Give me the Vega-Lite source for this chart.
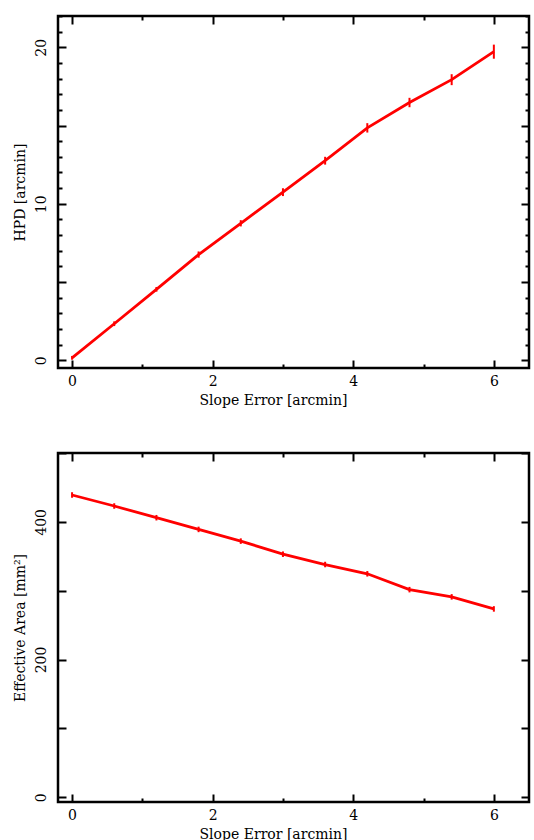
{
  "$schema": "https://vega.github.io/schema/vega-lite/v6.json",
  "padding": {"left": 11, "top": 13, "right": 5, "bottom": 5},
  "background": "white",
  "config": {
    "view": {"stroke": "black", "strokeWidth": 2.5},
    "font": "DejaVu Serif",
    "axis": {
      "domain": false,
      "grid": false,
      "tickColor": "black",
      "tickWidth": 2,
      "labelFont": "DejaVu Serif",
      "labelFontSize": 14,
      "labelColor": "black",
      "titleFont": "DejaVu Serif",
      "titleFontSize": 14,
      "titleFontWeight": "normal",
      "titleColor": "black"
    }
  },
  "datasets": {
    "hpd": [
      {"slope": 0.0, "v": 0.15, "e": 0.12},
      {"slope": 0.6, "v": 2.33, "e": 0.15},
      {"slope": 1.2, "v": 4.53, "e": 0.15},
      {"slope": 1.8, "v": 6.75, "e": 0.2},
      {"slope": 2.4, "v": 8.75, "e": 0.2},
      {"slope": 3.0, "v": 10.74, "e": 0.25},
      {"slope": 3.6, "v": 12.75, "e": 0.25},
      {"slope": 4.2, "v": 14.85, "e": 0.3},
      {"slope": 4.8, "v": 16.47, "e": 0.3},
      {"slope": 5.4, "v": 17.93, "e": 0.35},
      {"slope": 6.0, "v": 19.72, "e": 0.45}
    ],
    "area": [
      {"slope": 0.0, "v": 439, "e": 4},
      {"slope": 0.6, "v": 423, "e": 4},
      {"slope": 1.2, "v": 406, "e": 4},
      {"slope": 1.8, "v": 389, "e": 4},
      {"slope": 2.4, "v": 372, "e": 4},
      {"slope": 3.0, "v": 353, "e": 4},
      {"slope": 3.6, "v": 338, "e": 4},
      {"slope": 4.2, "v": 324.5, "e": 4},
      {"slope": 4.8, "v": 301.5, "e": 4},
      {"slope": 5.4, "v": 291, "e": 4},
      {"slope": 6.0, "v": 273.5, "e": 4}
    ]
  },
  "spacing": 41,
  "vconcat": [
    {
      "width": 471,
      "height": 352,
      "data": {"name": "hpd"},
      "resolve": {"axis": {"x": "independent", "y": "independent"}},
      "layer": [
        {
          "mark": {"type": "line", "color": "#ff0000", "strokeWidth": 2.8},
          "encoding": {
            "x": {"field": "slope", "type": "quantitative", "scale": {"domain": [-0.2, 6.5], "nice": false, "zero": false},
              "axis": {"orient": "bottom", "title": "Slope Error [arcmin]", "values": [0, 1, 2, 3, 4, 5, 6],
                "labelExpr": "datum.value % 2 === 0 ? datum.label : ''",
                "tickSize": {"condition": {"test": "datum.value % 2 === 0", "value": -8}, "value": -4},
                "labelPadding": 14, "titlePadding": 5, "titleX": 215, "labelAngle": 0}},
            "y": {"field": "v", "type": "quantitative", "scale": {"domain": [-0.5, 22], "nice": false, "zero": false},
              "axis": {"orient": "left", "title": "HPD [arcmin]",
                "values": [0,1,2,3,4,5,6,7,8,9,10,11,12,13,14,15,16,17,18,19,20,21,22],
                "labelExpr": "datum.value % 10 === 0 ? datum.label : ''",
                "tickSize": {"condition": {"test": "datum.value % 5 === 0", "value": -8}, "value": -4},
                "labelAngle": -90, "labelAlign": "center", "labelBaseline": "bottom", "labelPadding": 18, "titlePadding": 7}}
          }
        },
        {
          "mark": {"type": "rule", "color": "#ff0000", "strokeWidth": 2},
          "encoding": {
            "x": {"field": "slope", "type": "quantitative",
              "axis": {"orient": "top", "title": null, "values": [0, 1, 2, 3, 4, 5, 6], "labels": false,
                "tickSize": {"condition": {"test": "datum.value % 2 === 0", "value": -8}, "value": -4}}},
            "y": {"field": "lo", "type": "quantitative",
              "axis": {"orient": "right", "title": null, "labels": false,
                "values": [0,1,2,3,4,5,6,7,8,9,10,11,12,13,14,15,16,17,18,19,20,21,22],
                "tickSize": {"condition": {"test": "datum.value % 5 === 0", "value": -8}, "value": -4}}},
            "y2": {"field": "hi"}
          },
          "transform": [{"calculate": "datum.v - datum.e", "as": "lo"}, {"calculate": "datum.v + datum.e", "as": "hi"}]
        }
      ]
    },
    {
      "width": 471,
      "height": 349,
      "data": {"name": "area"},
      "resolve": {"axis": {"x": "independent", "y": "independent"}},
      "layer": [
        {
          "mark": {"type": "line", "color": "#ff0000", "strokeWidth": 2.8},
          "encoding": {
            "x": {"field": "slope", "type": "quantitative", "scale": {"domain": [-0.2, 6.5], "nice": false, "zero": false},
              "axis": {"orient": "bottom", "title": "Slope Error [arcmin]", "values": [0, 1, 2, 3, 4, 5, 6],
                "labelExpr": "datum.value % 2 === 0 ? datum.label : ''",
                "tickSize": {"condition": {"test": "datum.value % 2 === 0", "value": -8}, "value": -4},
                "labelPadding": 14, "titlePadding": 5, "titleX": 215, "labelAngle": 0}},
            "y": {"field": "v", "type": "quantitative", "scale": {"domain": [-7, 500], "nice": false, "zero": false},
              "axis": {"orient": "left", "title": "Effective Area [mm²]",
                "values": [0, 100, 200, 300, 400, 500],
                "labelExpr": "datum.value % 200 === 0 ? datum.label : ''",
                "tickSize": -8,
                "labelAngle": -90, "labelAlign": "center", "labelBaseline": "bottom", "labelPadding": 18, "titlePadding": 7}}
          }
        },
        {
          "mark": {"type": "rule", "color": "#ff0000", "strokeWidth": 2},
          "encoding": {
            "x": {"field": "slope", "type": "quantitative",
              "axis": {"orient": "top", "title": null, "values": [0, 1, 2, 3, 4, 5, 6], "labels": false,
                "tickSize": {"condition": {"test": "datum.value % 2 === 0", "value": -8}, "value": -4}}},
            "y": {"field": "lo", "type": "quantitative",
              "axis": {"orient": "right", "title": null, "labels": false,
                "values": [0, 100, 200, 300, 400, 500], "tickSize": -8}},
            "y2": {"field": "hi"}
          },
          "transform": [{"calculate": "datum.v - datum.e", "as": "lo"}, {"calculate": "datum.v + datum.e", "as": "hi"}]
        }
      ]
    }
  ]
}
